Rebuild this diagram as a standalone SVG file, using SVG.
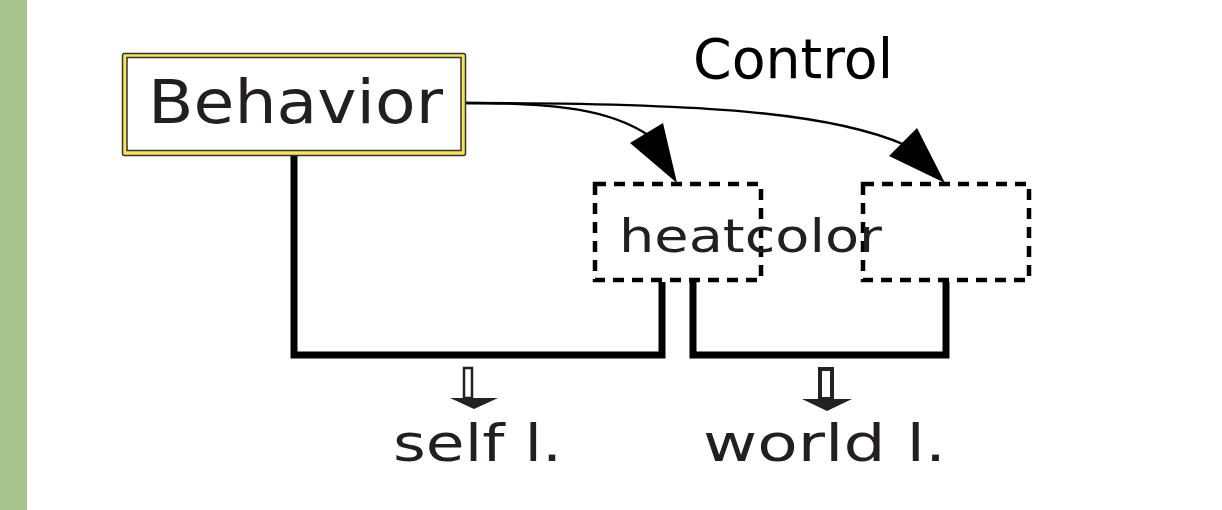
<svg xmlns="http://www.w3.org/2000/svg" width="1222" height="510" viewBox="0 0 1222 510">
<style>
.lbl{font-family:"DejaVu Sans",sans-serif;fill:#231f20}
.dash{fill:none;stroke:#000;stroke-width:4.5;stroke-dasharray:11 8}
.thick{fill:none;stroke:#000;stroke-width:7;stroke-linejoin:miter}
.thin{fill:none;stroke:#000;stroke-width:2.3}
</style>
<rect x="0" y="0" width="1222" height="510" fill="#fff"/>
<rect x="0" y="0" width="27" height="510" fill="#a8c48c"/>
<g id="connectors">
<path class="thick" d="M294,155 V355 H662 V282"/>
<path class="thick" d="M693,282 V355 H946 V282"/>
<path class="thin" d="M466,103 C560,103 610,110 648,135"/>
<polygon points="630,143 663,123 677,183" fill="#000"/>
<path class="thin" d="M466,103 C700,103 830,112 905,145"/>
<polygon points="889,156 917,128 945,183" fill="#000"/>
</g>
<g id="behavior">
<rect x="122.5" y="53.5" width="343" height="102" rx="2" fill="#f5e35a" stroke="#333" stroke-width="1.5"/>
<rect x="127" y="57.5" width="334" height="93" fill="#fff" stroke="#333" stroke-width="1.5"/>
<text class="lbl" x="148" y="123" font-size="60" textLength="295" lengthAdjust="spacingAndGlyphs">Behavior</text>
</g>
<g id="control">
<text class="lbl" x="693" y="78" font-size="55" style="fill:#000" textLength="200" lengthAdjust="spacingAndGlyphs">Control</text>
</g>
<g id="box1">
<rect class="dash" x="595" y="184" width="166" height="96"/>
</g>
<g id="box2">
<rect class="dash" x="863" y="184" width="166" height="96"/>
</g>
<g id="heatcolor">
<text class="lbl" x="619" y="252" font-size="47" textLength="263" lengthAdjust="spacingAndGlyphs">heatcolor</text>
</g>
<g id="arrow-self">
<rect x="464" y="368" width="8" height="30" fill="#fff" stroke="#222" stroke-width="2.5"/>
<polygon points="450,398 498,398 474,409" fill="#222"/>
<text class="lbl" x="393" y="461" font-size="51" textLength="169" lengthAdjust="spacingAndGlyphs">self l.</text>
</g>
<g id="arrow-world">
<rect x="820" y="369" width="12" height="30" fill="#fff" stroke="#222" stroke-width="4"/>
<polygon points="802,399 852,399 827,411" fill="#222"/>
<text class="lbl" x="703" y="461" font-size="51" textLength="243" lengthAdjust="spacingAndGlyphs">world l.</text>
</g>
</svg>
